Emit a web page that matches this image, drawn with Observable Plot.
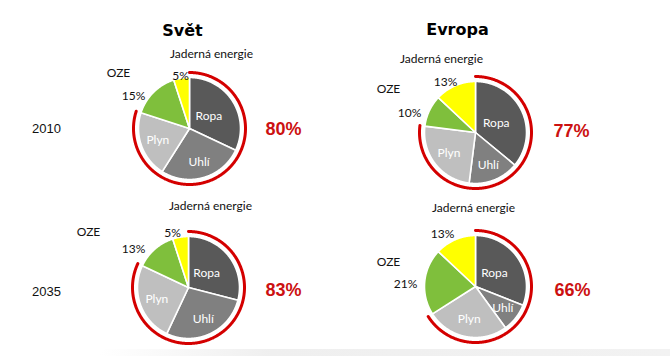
<!DOCTYPE html>
<html>
<head>
<meta charset="utf-8">
<script src="https://cdn.jsdelivr.net/npm/d3@7"></script>
<script src="https://cdn.jsdelivr.net/npm/@observablehq/plot@0.6"></script>
<style>
  html, body { margin: 0; padding: 0; background: #fff; }
  #chart { width: 670px; height: 356px; position: relative; }
  #band { position: absolute; left: 100px; top: 349px; width: 570px; height: 7px;
          background: linear-gradient(to right, rgba(240,240,240,0), #efefef 30%, #f2f2f2 100%); }
  #chart svg { position: relative; }
</style>
</head>
<body>
<div id="chart"><div id="band"></div></div>
<script>
// ---- data ----
const regions = ["Svět", "Evropa"];
const years = ["2010", "2035"];
const categories = ["Ropa", "Uhlí", "Plyn", "OZE", "Jaderná energie"];
const colors = ["#595959", "#808080", "#bfbfbf", "#7fbf3c", "#ffff00"];
const svet2010 = [32, 27, 21, 15, 5];
const evropa2010 = [36, 16, 25, 10, 13];
const svet2035 = [29, 28, 25, 13, 5];
const evropa2035 = [31, 9, 26, 21, 13];
const fossilShare = ["80%", "77%", "83%", "66%"];

// ---- layout (positions only) ----
const R = 51, RARC = 56;
const panels = [
  {values: svet2010,   cx: 189, cy: 128, jad: [22, -74], oze: [-71, -55], pJad: [-9, -52],  pOze: [-56, -32], tot: [94, 1]},
  {values: evropa2010, cx: 475, cy: 132, jad: [-34, -73], oze: [-87, -43], pJad: [-30, -50], pOze: [-66, -19], tot: [96, -1]},
  {values: svet2035,   cx: 188, cy: 287, jad: [22, -81], oze: [-100, -55], pJad: [-16, -54], pOze: [-55, -38], tot: [95, 3]},
  {values: evropa2035, cx: 475, cy: 286, jad: [-2, -78], oze: [-87, -24], pJad: [-33, -52], pOze: [-70, -2], tot: [97, 4]}
];
const labelRadius = {"Ropa": 0.45, "Uhlí": 0.68, "Plyn": 0.66};

// ---- geometry from values ----
const slices = [], arcs = [], inner = [], outer = [];
panels.forEach((p, pi) => {
  const total = d3.sum(p.values);
  let acc = 0;
  p.values.forEach((v, i) => {
    const a0 = acc / total * 2 * Math.PI;
    acc += v;
    const a1 = acc / total * 2 * Math.PI;
    const id = pi + "-" + i;
    slices.push({id, cat: categories[i], x: p.cx, y: p.cy});
    const n = Math.max(2, Math.ceil((a1 - a0) / 0.01));
    for (let k = 0; k <= n; k++) {
      const a = a0 + (a1 - a0) * k / n;
      slices.push({id, cat: categories[i], x: p.cx + R * Math.sin(a), y: p.cy - R * Math.cos(a)});
    }
    slices.push({id, cat: categories[i], x: p.cx, y: p.cy});
    if (i < 3) {
      const am = (a0 + a1) / 2, f = labelRadius[categories[i]];
      inner.push({x: p.cx + f * R * Math.sin(am), y: p.cy - f * R * Math.cos(am), t: categories[i]});
    }
  });
  // fossil arc
  const fossil = d3.sum(p.values.slice(0, 3)) / total * 2 * Math.PI;
  const n = Math.ceil(fossil / 0.01);
  for (let k = 0; k <= n; k++) {
    const a = fossil * k / n;
    arcs.push({id: pi, x: p.cx + RARC * Math.sin(a), y: p.cy - RARC * Math.cos(a)});
  }
  outer.push({x: p.cx + p.jad[0], y: p.cy + p.jad[1], t: categories[4]});
  outer.push({x: p.cx + p.oze[0], y: p.cy + p.oze[1], t: categories[3]});
  outer.push({x: p.cx + p.pJad[0], y: p.cy + p.pJad[1], t: p.values[4] + "%"});
  outer.push({x: p.cx + p.pOze[0], y: p.cy + p.pOze[1], t: p.values[3] + "%"});
});
const totals = panels.map((p, i) => ({x: p.cx + p.tot[0], y: p.cy + p.tot[1], t: fossilShare[i]}));
const titles = [{x: 182, y: 30, t: regions[0]}, {x: 457, y: 29, t: regions[1]}];
const yearLabels = [{x: 46, y: 128, t: years[0]}, {x: 46, y: 291, t: years[1]}];

const chart = Plot.plot({
  width: 670,
  height: 356,
  margin: 0,
  style: {background: "transparent", overflow: "visible"},
  x: {domain: [0, 670], range: [0, 670], axis: null},
  y: {domain: [0, 356], range: [0, 356], axis: null},
  color: {domain: categories, range: colors},
  marks: [
    Plot.line(slices, {x: "x", y: "y", z: "id", fill: "cat", stroke: "white", strokeWidth: 1.6, strokeLinejoin: "round", curve: "linear"}),
    Plot.line(arcs, {x: "x", y: "y", z: "id", stroke: "#d40000", strokeWidth: 3, curve: "linear"}),
    Plot.text(inner, {x: "x", y: "y", text: "t", fill: "white", fontSize: 12, fontFamily: "Lato, 'Open Sans', sans-serif"}),
    Plot.text(outer, {x: "x", y: "y", text: "t", fill: "#111", fontSize: 12, fontFamily: "Lato, 'Open Sans', sans-serif"}),
    Plot.text(totals, {x: "x", y: "y", text: "t", fill: "#cc1111", fontSize: 18, fontWeight: "bold", fontFamily: "'Liberation Sans', Arial, sans-serif"}),
    Plot.text(titles, {x: "x", y: "y", text: "t", fill: "#000", fontSize: 16, fontWeight: "900", fontFamily: "'DejaVu Sans', 'Liberation Sans', sans-serif"}),
    Plot.text(yearLabels, {x: "x", y: "y", text: "t", fill: "#111", fontSize: 13, fontFamily: "'Liberation Sans', Arial, sans-serif"})
  ]
});
chart.style.position = "absolute";
chart.style.left = "0";
chart.style.top = "0";
document.getElementById("chart").appendChild(chart);
</script>
</body>
</html>
